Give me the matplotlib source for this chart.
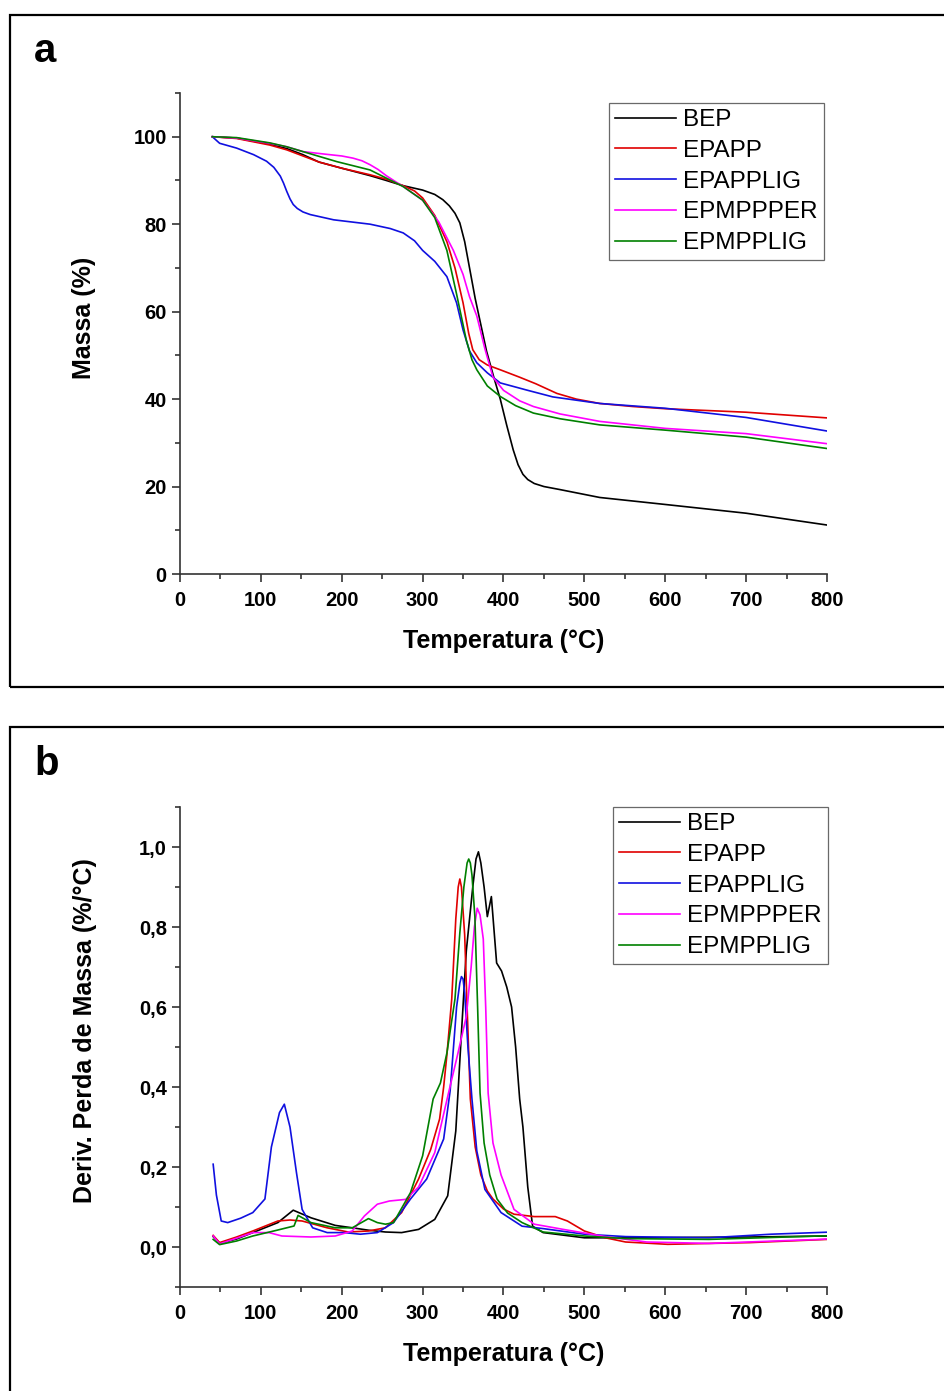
import matplotlib
matplotlib.use("Agg")
import matplotlib.pyplot as plt
import matplotlib.ticker as mticker
from matplotlib.patches import Rectangle

# ── data: TGA (mass %) ─────────────────────────────────────────────────────
BEP_T = [40, 70, 111, 132, 152, 172, 200, 235, 255, 276, 300, 315, 325, 333, 340, 346, 352,
         358, 365, 372, 379, 388, 396, 404, 412, 418, 424, 430, 438, 450, 470, 519, 600, 700,
         800]
BEP_M = [100, 99.7, 98.3, 97.3, 95.9, 94.2, 92.8, 91.1, 90, 88.8, 87.8, 86.8, 85.6, 84.2, 82.5,
         80.3, 76, 70, 63, 57, 51, 45, 40, 34, 28.4, 25, 22.8, 21.6, 20.7, 20.0, 19.3, 17.5,
         15.9, 13.9, 11.2]

EPAPP_T = [40, 70, 111, 132, 152, 172, 200, 235, 255, 276, 290, 300, 315, 330, 340, 350, 357,
           362, 370, 380, 396, 420, 440, 466, 490, 519, 560, 600, 700, 800]
EPAPP_M = [100, 99.6, 98.1, 97, 95.6, 94.2, 92.8, 91.3, 90.3, 88.8, 87.6, 86, 82, 76, 70, 62,
           55, 51.3, 49, 47.8, 46.7, 45, 43.5, 41.3, 40, 39, 38.3, 37.8, 37, 35.7]

EPAPPLIG_T = [40, 49, 70, 91, 107, 116, 124, 128, 132, 136, 140, 145, 152, 161, 190, 235, 260,
              276, 290, 300, 315, 330, 342, 350, 358, 367, 380, 396, 430, 461, 519, 600, 700,
              800]
EPAPPLIG_M = [100, 98.5, 97.4, 95.9, 94.4, 93, 91, 89.4, 87.5, 85.8, 84.5, 83.6, 82.8, 82.2, 81,
              80, 79, 78, 76.2, 74, 71.5, 68, 62, 55.8, 51, 48.3, 46, 43.7, 42, 40.5, 39, 37.9,
              35.8, 32.7]

EPMPPPER_T = [40, 70, 111, 132, 152, 180, 200, 214, 225, 235, 245, 255, 265, 276, 300, 320, 338,
              350, 358, 367, 377, 387, 400, 420, 437, 470, 519, 600, 700, 800]
EPMPPPER_M = [100, 99.7, 98.5, 97.7, 96.6, 96, 95.6, 95.1, 94.5, 93.6, 92.5, 91.1, 89.9, 88.6,
              85.5, 80.5, 74, 68.5, 63.4, 59, 51.5, 45, 42, 39.6, 38.3, 36.6, 34.9, 33.3, 32.1,
              29.8]

EPMPPLIG_T = [40, 70, 111, 132, 152, 194, 235, 276, 300, 315, 330, 342, 350, 354, 361, 367, 380,
              396, 415, 437, 470, 519, 600, 700, 800]
EPMPPLIG_M = [100, 99.8, 98.6, 97.7, 96.6, 94.3, 92.4, 88.6, 85.5, 81.5, 74, 64, 57, 53.5, 49,
              46.7, 43, 40.6, 38.5, 36.8, 35.5, 34.1, 32.9, 31.3, 28.7]

# ── data: DTG (%/°C) ───────────────────────────────────────────────────────
BEP_dT = [41, 49, 70, 90, 121, 140, 162, 192, 213, 233, 254, 274, 295, 315, 331, 341, 348, 354,
          362, 366, 369, 372, 376, 380, 385, 391.5, 397.6, 404, 410, 415, 420, 424, 430, 436, 449,
          500, 551, 705, 800]
BEP_D = [0.026, 0.009, 0.02, 0.036, 0.061, 0.092, 0.073, 0.054, 0.048, 0.042, 0.0375, 0.036,
         0.044, 0.069, 0.128, 0.29, 0.535, 0.74, 0.90, 0.97, 0.988, 0.96, 0.90, 0.826, 0.876,
         0.71, 0.69, 0.65, 0.60, 0.50, 0.37, 0.3, 0.15, 0.052, 0.036, 0.023, 0.023, 0.025, 0.0275]

EPAPP_dT = [41, 49, 70, 90, 121, 136, 151, 182, 208, 233, 254, 274, 295, 310, 321, 326, 330, 336,
            341, 344, 346, 348, 352, 355, 359, 365, 372, 380, 387, 400, 413, 438, 464, 479, 500,
            526, 551, 603, 705, 800]
EPAPP_D = [0.029, 0.011, 0.025, 0.04, 0.065, 0.0675, 0.065, 0.048, 0.0375, 0.04, 0.048, 0.086,
           0.17, 0.244, 0.32, 0.40, 0.48, 0.62, 0.82, 0.90, 0.92, 0.90, 0.78, 0.6, 0.37, 0.25,
           0.18, 0.14, 0.12, 0.095, 0.082, 0.076, 0.076, 0.065, 0.04, 0.023, 0.0125, 0.0067,
           0.011, 0.019]

EPAPPLIG_dT = [41, 45, 51, 59, 75, 90, 105, 113, 123, 129, 136, 144, 151, 164, 182, 203, 223, 244,
               264, 285, 305, 326, 334, 342, 346, 348, 350, 352, 356, 361, 367, 377, 397, 423,
               449, 500, 551, 654, 731, 800]
EPAPPLIG_D = [0.207, 0.13, 0.065, 0.061, 0.072, 0.086, 0.12, 0.25, 0.336, 0.357, 0.30, 0.186,
              0.094, 0.048, 0.036, 0.036, 0.032, 0.036, 0.061, 0.12, 0.17, 0.27, 0.39, 0.6,
              0.66, 0.676, 0.67, 0.635, 0.5, 0.37, 0.24, 0.144, 0.086, 0.052, 0.046, 0.032,
              0.026, 0.023, 0.032, 0.037]

EPMPPPER_dT = [41, 49, 70, 90, 110, 126, 162, 192, 213, 228, 244, 259, 279, 295, 315, 332, 342,
               354, 360, 364, 367.5, 371, 375, 378, 381, 387, 397, 413, 438, 474, 526, 577, 654,
               791, 800]
EPMPPPER_D = [0.0275, 0.008, 0.022, 0.036, 0.036, 0.0275, 0.025, 0.0275, 0.04, 0.0775, 0.107,
              0.115, 0.119, 0.15, 0.236, 0.385, 0.47, 0.576, 0.70, 0.80, 0.847, 0.83, 0.77, 0.6,
              0.385, 0.26, 0.18, 0.094, 0.057, 0.044, 0.026, 0.0125, 0.009, 0.019, 0.02]

EPMPPLIG_dT = [41, 49, 70, 90, 120, 141, 146, 162, 192, 213, 233, 244, 254, 264, 285, 300, 313,
               322, 330, 340, 346, 351, 355, 357, 359, 361, 364.6, 368, 371, 376, 383, 392, 405,
               423, 449, 500, 551, 654, 791, 800]
EPMPPLIG_D = [0.019, 0.006, 0.015, 0.0275, 0.042, 0.0525, 0.079, 0.061, 0.048, 0.048, 0.071,
              0.061, 0.057, 0.061, 0.136, 0.228, 0.37, 0.41, 0.485, 0.62, 0.785, 0.90, 0.96, 0.97,
              0.96, 0.93, 0.826, 0.6, 0.385, 0.26, 0.18, 0.12, 0.085, 0.061, 0.0375, 0.0275,
              0.021, 0.019, 0.0275, 0.028]

LABELS = ["BEP", "EPAPP", "EPAPPLIG", "EPMPPPER", "EPMPPLIG"]
COLORS = ["#000000", "#e00000", "#1010e0", "#ff00ff", "#008000"]

plt.rcParams.update({
    "font.family": ["Liberation Sans", "DejaVu Sans"],
    "axes.edgecolor": "#333333",
    "axes.linewidth": 1.2,
})

fig = plt.figure(figsize=(9.45, 13.91), dpi=100)

# panel frames
fig.patches.append(Rectangle((10 / 945, 1 - 687 / 1391), 1.0, (687 - 15) / 1391,
                             transform=fig.transFigure, fill=False, lw=1.6, ec="black"))
fig.patches.append(Rectangle((10 / 945, -0.05), 1.0, 0.05 + 1 - 727 / 1391,
                             transform=fig.transFigure, fill=False, lw=1.6, ec="black"))
fig.text(34 / 945, 1 - 62 / 1391, "a", fontsize=29, fontweight="heavy", va="baseline")
fig.text(34 / 945, 1 - 775 / 1391, "b", fontsize=29, fontweight="heavy", va="baseline")


def style(ax, ymaj, ymin):
    for s in ("top", "right"):
        ax.spines[s].set_visible(False)
    ax.set_xlim(0, 800)
    ax.xaxis.set_major_locator(mticker.MultipleLocator(100))
    ax.xaxis.set_minor_locator(mticker.MultipleLocator(50))
    ax.yaxis.set_major_locator(mticker.MultipleLocator(ymaj))
    ax.yaxis.set_minor_locator(mticker.MultipleLocator(ymin))
    ax.tick_params(which="major", direction="out", length=6, width=1.2, color="#333333",
                   labelsize=14.5)
    ax.tick_params(axis="x", which="major", pad=6)
    ax.tick_params(which="minor", direction="out", length=3.5, width=1.2, color="#333333")
    for lab in ax.get_xticklabels() + ax.get_yticklabels():
        lab.set_fontweight("bold")
    ax.set_xlabel("Temperatura (°C)", fontsize=18, fontweight="bold", labelpad=14)


def add_legend(ax, anchor):
    leg = ax.legend(loc="upper right", bbox_to_anchor=anchor, fontsize=17.5,
                    frameon=True, fancybox=False, edgecolor="#444444", handlelength=2.5,
                    handletextpad=0.3, borderpad=0.25, labelspacing=0.36, borderaxespad=0)
    leg.get_frame().set_linewidth(0.9)


# ── a: TGA ─────────────────────────────────────────────────────────────────
ax1 = fig.add_axes([180 / 945, 1 - 574 / 1391, 647 / 945, 481 / 1391])
tga = [(BEP_T, BEP_M), (EPAPP_T, EPAPP_M), (EPAPPLIG_T, EPAPPLIG_M),
       (EPMPPPER_T, EPMPPPER_M), (EPMPPLIG_T, EPMPPLIG_M)]
for (t, m), lab, c in zip(tga, LABELS, COLORS):
    ax1.plot(t, m, color=c, lw=1.2, label=lab)
ax1.set_ylim(0, 110)
style(ax1, 20, 10)
ax1.set_ylabel("Massa (%)", fontsize=18, fontweight="bold")
ax1.yaxis.set_label_coords(-0.13, 0.532)
add_legend(ax1, (0.995, 0.979))

# ── b: DTG ─────────────────────────────────────────────────────────────────
ax2 = fig.add_axes([180 / 945, 1 - 1287 / 1391, 647 / 945, 480 / 1391])
dtg = [(BEP_dT, BEP_D), (EPAPP_dT, EPAPP_D), (EPAPPLIG_dT, EPAPPLIG_D),
       (EPMPPPER_dT, EPMPPPER_D), (EPMPPLIG_dT, EPMPPLIG_D)]
for (t, d), lab, c in zip(dtg, LABELS, COLORS):
    ax2.plot(t, d, color=c, lw=1.2, label=lab)
ax2.set_ylim(-0.1, 1.1)
style(ax2, 0.2, 0.1)
ax2.yaxis.set_major_formatter(mticker.FuncFormatter(lambda v, p: f"{v:.1f}".replace(".", ",")))
for lab in ax2.get_yticklabels():
    lab.set_fontweight("bold")
ax2.set_ylabel("Deriv. Perda de Massa (%/°C)", fontsize=18, fontweight="bold")
ax2.yaxis.set_label_coords(-0.128, 0.535)
add_legend(ax2, (1.0015, 1.0))

fig.savefig("out.png", dpi=100)
